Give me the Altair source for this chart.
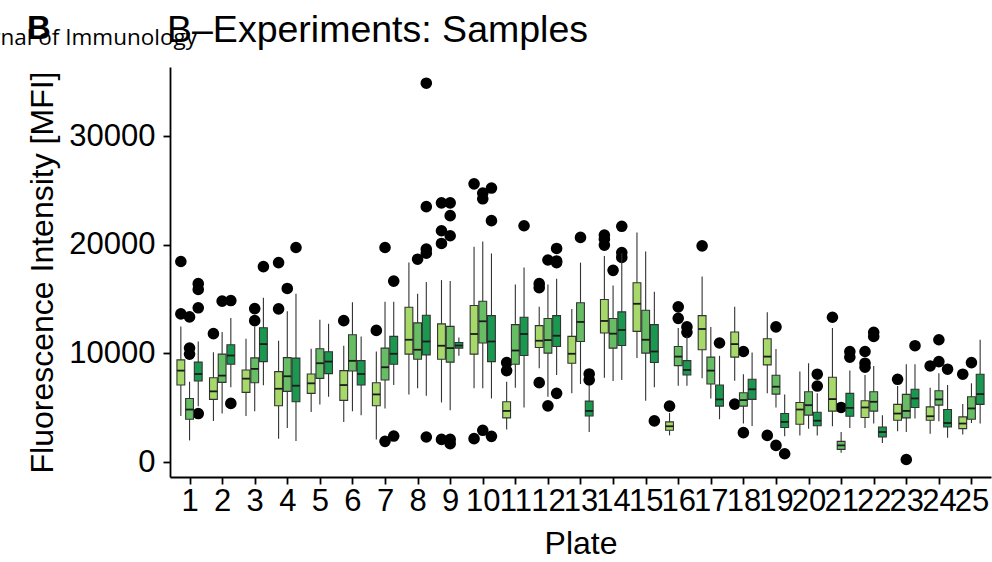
import altair as alt
import pandas as pd

# Plates on the x axis and the three sample series dodged within each plate
plates = list(range(1, 26))
groups = ["S1", "S2", "S3"]
group_colors = ["#a6d96a", "#66bd63", "#1a9850"]

# Box statistics per plate (MFI): lower whisker, Q1, median, Q3, upper whisker
lower_s1 = [4240, 3780, 4240, 2150, 4610, 3690, 2060, 6220, 5480, 6780, 2980, 8630, 6320,
            7760, 9560, 2450, 7700, 7480, 6320, 2450, 3290, 3130, 2820, 2610, 2520]
q1_s1 = [7080, 5760, 6410, 5170, 6320, 5670, 5170, 9930, 9460, 9930, 4060, 10540, 9090,
         11870, 12020, 2920, 10330, 9650, 8940, 3470, 4680, 4090, 3840, 3840, 3070]
med_s1 = [8410, 6500, 7670, 6740, 7240, 7080, 6220, 11250, 10700, 11780, 4700, 11160, 9960,
          12980, 14560, 3290, 12240, 10850, 9700, 4830, 5790, 5020, 4460, 4210, 3540]
q3_s1 = [9400, 7760, 8470, 8320, 8100, 8410, 7300, 14240, 12710, 14400, 5540, 12550, 11560,
         14960, 16500, 3690, 13470, 11960, 11340, 5480, 7800, 5630, 5300, 5070, 4150]
upper_s1 = [12480, 10110, 11340, 11160, 10420, 10700, 10170, 18350, 16740, 19800, 7390, 14280, 14090,
            18960, 21130, 4520, 17060, 14280, 13780, 8320, 12330, 8010, 6990, 6830, 5330]

lower_s2 = [1990, 4460, 4680, 3130, 5300, 4680, 4930, 6780, 4770, 6780, 6830, 6000, 7180,
            7450, 5630, 7020, 5850, 3540, 5020, 3070, 850, 3540, 2760, 3750, 3590]
q1_s2 = [3940, 7330, 7300, 6500, 7700, 8380, 7550, 9460, 9190, 10950, 9000, 10020, 11090,
         10480, 10020, 8870, 7180, 5140, 6250, 4310, 1160, 4680, 4060, 5230, 3940]
med_s2 = [4830, 7950, 8570, 7890, 9090, 9310, 8720, 10330, 10480, 12950, 10260, 11220, 12890,
          11810, 11250, 9700, 8410, 5700, 6930, 5230, 1530, 5540, 4700, 5760, 4930]
q3_s2 = [5850, 9930, 9580, 9610, 10420, 11710, 10480, 12800, 12480, 14800, 12640, 13200, 14650,
         13200, 13960, 10630, 9650, 6370, 7980, 6460, 1900, 6460, 6220, 6560, 6000]
upper_s2 = [7390, 11960, 12480, 13870, 13100, 14700, 14740, 15480, 16650, 20300, 16340, 16340, 18350,
            16250, 19370, 12330, 12430, 8080, 10390, 9090, 2760, 8840, 9000, 8170, 7240]

lower_s3 = [5140, 6870, 7060, 1930, 6000, 4310, 7080, 6090, 9770, 5850, 5020, 8010, 2760,
            7550, 6870, 7020, 3940, 3320, 2360, 2450, 3130, 1740, 4000, 2240, 3540]
q1_s3 = [7450, 9000, 9240, 5540, 8130, 7080, 9000, 9860, 10480, 9240, 9800, 10630, 4240,
         10720, 9150, 8010, 5140, 5760, 3170, 3330, 4210, 2300, 5020, 3220, 5300]
med_s3 = [8100, 9800, 10850, 7020, 9240, 8100, 9960, 11090, 10720, 11090, 11780, 11620, 4700,
          12150, 10170, 8470, 5760, 6690, 3690, 3800, 4980, 2760, 5850, 3590, 6250]
q3_s3 = [9190, 10790, 12360, 9560, 10140, 9330, 11560, 13500, 11000, 13470, 13320, 13470, 5600,
         13820, 12640, 9330, 7080, 7610, 4460, 4580, 6320, 3220, 6690, 4830, 8080]
upper_s3 = [11090, 13260, 15110, 15480, 12730, 11560, 14740, 16560, 11460, 19190, 17890, 16870, 7080,
            19220, 15670, 11600, 9770, 10080, 6220, 6320, 8410, 4310, 9000, 7080, 11250]

# Outlying samples per plate
out_s1 = [[18450, 13630], [11810], [], [18350, 14090], [], [13010], [12110], [],
          [23850, 21280, 20110, 2080], [25600, 2150], [9150, 8410], [16410, 16040, 7300], [],
          [20880, 20510, 19960], [], [5140], [19890], [5330], [2450], [], [13320],
          [10170, 9090, 8720], [7610], [8840], [8080]]
out_s2 = [[13350, 10480, 9930], [14800], [14120, 13010], [15970], [], [], [19740, 1900], [18660],
          [23850, 22670, 20820, 2080, 1690], [24740, 24220, 2920], [], [18590, 5170], [20670],
          [17640], [], [14280, 13220], [], [10170, 2700], [12430, 1530], [], [5020],
          [11930, 11560], [230], [11250, 9240], [9150]]
out_s3 = [[16410, 15880, 14190, 4460], [14860, 5390], [17980], [19740], [], [], [16650, 2390],
          [34860, 23500, 19590, 19220, 2300], [], [25210, 22210, 2360], [21740],
          [19650, 18500, 18350, 6320], [8100, 7550], [21690, 19280, 18820], [3780],
          [12430, 11930], [10950], [], [760], [8080, 6990], [10170, 9650], [], [10700], [8540], []]

stats = [
    (lower_s1, q1_s1, med_s1, q3_s1, upper_s1, out_s1),
    (lower_s2, q1_s2, med_s2, q3_s2, upper_s2, out_s2),
    (lower_s3, q1_s3, med_s3, q3_s3, upper_s3, out_s3),
]

box_rows, out_rows = [], []
for gi, (g, (lo, a, m, b, hi, outs)) in enumerate(zip(groups, stats)):
    for i, p in enumerate(plates):
        box_rows.append(dict(plate=p, group=g, gi=gi, lower=lo[i], q1=a[i],
                             median=m[i], q3=b[i], upper=hi[i]))
        for v in outs[i]:
            out_rows.append(dict(plate=p, group=g, gi=gi, value=v))

boxes = pd.DataFrame(box_rows)
outliers = pd.DataFrame(out_rows)

FONT = "Liberation Sans"
DODGE = 0.267      # distance between neighbouring boxes, in plate units
HALF = 0.12        # half box width, in plate units

x_scale = alt.Scale(domain=[0.4, 25.6], nice=False, zero=False)
y_scale = alt.Scale(domain=[-1380, 36350], nice=False, zero=False)
x_axis = alt.Axis(values=plates, format="d", title="Plate", labelOverlap=False,
                  labelFlush=False, labelBound=False, labelPadding=2,
                  titleY=76, titleBaseline="alphabetic")
y_axis = alt.Axis(values=[0, 10000, 20000, 30000], format="d",
                  title="Fluorescence Intensity [MFI]", labelFlush=False,
                  labelPadding=8, labelBaseline="middle",
                  titleX=-118, titleY=205, titleBaseline="alphabetic", titleAlign="center")
color = alt.Color("group:N", scale=alt.Scale(domain=groups, range=group_colors), legend=None)

box_base = alt.Chart(boxes).transform_calculate(
    pos=f"datum.plate + (datum.gi - 1) * {DODGE}",
    left=f"datum.plate + (datum.gi - 1) * {DODGE} - {HALF}",
    right=f"datum.plate + (datum.gi - 1) * {DODGE} + {HALF}",
)

points = alt.Chart(outliers).transform_calculate(
    pos=f"datum.plate + (datum.gi - 1) * {DODGE}"
).mark_circle(size=135, color="black", opacity=1).encode(
    x=alt.X("pos:Q", scale=x_scale, axis=x_axis),
    y=alt.Y("value:Q", scale=y_scale, axis=y_axis),
)

whiskers = box_base.mark_rule(color="#333333", strokeWidth=1.1).encode(
    x=alt.X("pos:Q", scale=x_scale, axis=x_axis),
    y=alt.Y("lower:Q", scale=y_scale, axis=y_axis),
    y2="upper:Q",
)

rects = box_base.mark_rect(stroke="#333333", strokeWidth=1.1).encode(
    x=alt.X("left:Q", scale=x_scale, axis=x_axis),
    x2="right:Q",
    y=alt.Y("q1:Q", scale=y_scale, axis=y_axis),
    y2="q3:Q",
    color=color,
)

medians = box_base.mark_rule(color="#1a1a1a", strokeWidth=1.8).encode(
    x=alt.X("left:Q", scale=x_scale, axis=x_axis),
    x2="right:Q",
    y=alt.Y("median:Q", scale=y_scale, axis=y_axis),
)

# Panel heading texts above the plot area
labels = pd.DataFrame({
    "panel": ["B"],
    "title": ["B\u2013Experiments: Samples"],
    "journal": ["The Journal of Immunology"],
})
journal = alt.Chart(labels).mark_text(
    align="right", baseline="alphabetic", font="Open Sans", fontSize=22.5, color="black"
).encode(x=alt.value(27), y=alt.value(-22), text="journal:N")
panel = alt.Chart(labels).mark_text(
    align="left", baseline="alphabetic", font=FONT, fontSize=33, fontWeight="bold", color="black"
).encode(x=alt.value(-143), y=alt.value(-28.5), text="panel:N")
heading = alt.Chart(labels).mark_text(
    align="left", baseline="alphabetic", font=FONT, fontSize=37.5, color="black"
).encode(x=alt.value(-3), y=alt.value(-25.3), text="title:N")

chart = alt.layer(points, whiskers, rects, medians, journal, panel, heading).properties(
    width=821,
    height=410,
    padding={"left": 170, "top": 67, "right": 1, "bottom": 85},
    autosize=alt.AutoSizeParams(type="none"),
    background="white",
).configure_view(stroke=None).configure_axis(
    grid=False,
    domainColor="black",
    domainWidth=1.8,
    tickColor="black",
    tickWidth=1.8,
    tickSize=7,
    labelColor="black",
    labelFont=FONT,
    labelFontSize=31,
    titleColor="black",
    titleFont=FONT,
    titleFontSize=32,
    titleFontWeight="normal",
)

chart.save("out.html", embed_options={"renderer": "svg", "actions": False})
